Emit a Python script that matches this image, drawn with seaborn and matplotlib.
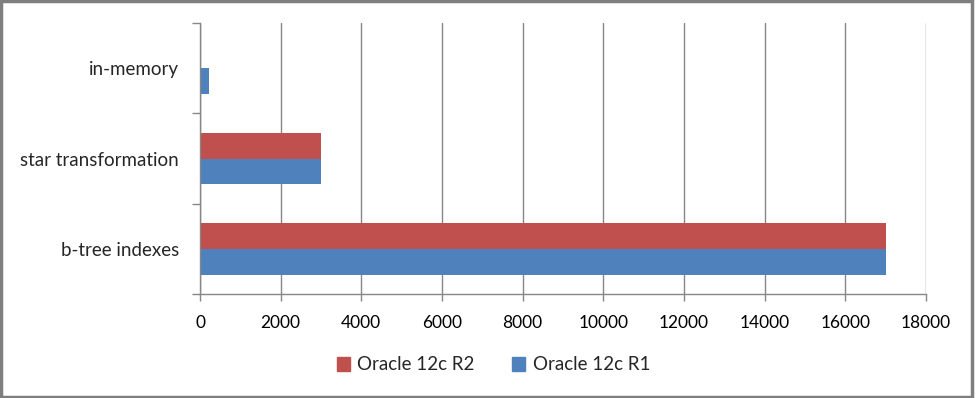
import pandas as pd
import matplotlib.pyplot as plt
import matplotlib.patches as mpatches
import seaborn as sns

categories = ['in-memory', 'star transformation', 'b-tree indexes']
series = ['Oracle 12c R2', 'Oracle 12c R1']
r2_values = [30, 3000, 17000]
r1_values = [230, 3000, 17000]
x_ticks = [0, 2000, 4000, 6000, 8000, 10000, 12000, 14000, 16000, 18000]

colors = {'Oracle 12c R2': '#C0504D', 'Oracle 12c R1': '#4F81BD'}
grid_col = '#868686'

df = pd.DataFrame({
    'category': categories * 2,
    'release': [series[0]] * 3 + [series[1]] * 3,
    'value': r2_values + r1_values,
})

sns.set_style('white')
plt.rcParams['font.family'] = ['Lato', 'DejaVu Sans']

fig = plt.figure(figsize=(9.77, 3.98), dpi=100)
ax = fig.add_axes([200 / 977, 1 - 294 / 398, 726 / 977, 271 / 398])

sns.barplot(data=df, x='value', y='category', hue='release', order=categories,
            hue_order=series, palette=colors, orient='h', width=0.57,
            saturation=1, linewidth=0, ax=ax, legend=False)

ax.set_xlim(0, 18000)
ax.set_xticks(x_ticks)
ax.set_xticklabels([str(t) for t in x_ticks], fontsize=12.5, color='black')
ax.set_ylim(2.5, -0.5)
ax.set_yticks([-0.5, 0.5, 1.5, 2.5])
ax.set_yticklabels([])
ax.set_yticks(range(len(categories)), categories, minor=True)
ax.tick_params(axis='y', which='minor', left=False, length=0, pad=15, labelsize=13.5)
ax.tick_params(axis='y', which='major', left=True, length=6, width=1, color=grid_col, direction='out')
ax.tick_params(axis='x', bottom=True, length=5, width=1, color=grid_col, direction='out', pad=10)
ax.set_xlabel('')
ax.set_ylabel('')

ax.grid(axis='x', color=grid_col, linewidth=1)
ax.set_axisbelow(True)
for s in ['top', 'right']:
    ax.spines[s].set_visible(False)
for s in ['left', 'bottom']:
    ax.spines[s].set_color(grid_col)
    ax.spines[s].set_linewidth(1)

handles = [mpatches.Patch(color=colors[s], label=s) for s in series]
fig.legend(handles=handles, loc='center', bbox_to_anchor=(0.505, 1 - 365 / 398),
           ncol=2, frameon=False, fontsize=13.5, handlelength=0.7, handleheight=0.7,
           columnspacing=2.0, handletextpad=0.4)

fig.patches.append(mpatches.Rectangle((0.001, 0.003), 0.994, 0.994, transform=fig.transFigure,
                                      fill=False, edgecolor='#7F7F7F', linewidth=2.5))

fig.savefig('out.png', dpi=100)
